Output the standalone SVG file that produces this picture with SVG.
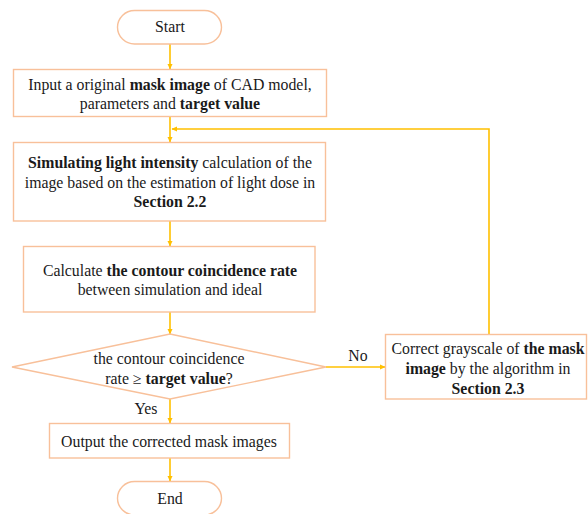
<svg xmlns="http://www.w3.org/2000/svg" width="588" height="514" viewBox="0 0 588 514" font-family="Liberation Serif, Times New Roman, DejaVu Serif, serif">
<defs>
<marker id="ah" markerWidth="6" markerHeight="6" refX="5" refY="3" orient="auto" markerUnits="userSpaceOnUse">
<path d="M0,0.5 L5.5,3 L0,5.5 Z" fill="#FFC000"/>
</marker>
<style>
.box{fill:#fff;stroke:#F8C09A;stroke-width:1.4}
.con{fill:none;stroke:#FFC000;stroke-width:1.6;marker-end:url(#ah)}
text{font-family:'Liberation Serif','Times New Roman','DejaVu Serif',serif;font-size:15.8px;fill:#1a1a1a;text-anchor:middle}
.b{font-weight:bold}
</style>
</defs>
<rect width="588" height="514" fill="#fff"/>
<g id="connectors">
<path class="con" d="M170,44 V69"/>
<path class="con" d="M170,117 V142"/>
<path class="con" d="M489,334 V129 H172"/>
<path class="con" d="M170,221 V246"/>
<path class="con" d="M170,312 V334"/>
<path class="con" d="M326,367 H385"/>
<path class="con" d="M170,399 V423"/>
<path class="con" d="M170,458 V481"/>
<text x="358" y="361">No</text>
<text x="146" y="414">Yes</text>
</g>
<g id="start">
<rect class="box" x="117.5" y="10.5" width="104" height="33.5" rx="17"/>
<text x="170" y="32">Start</text>
</g>
<g id="input">
<rect class="box" x="13.5" y="69.5" width="313" height="47"/>
<text x="170" y="90">Input a original <tspan class="b">mask image</tspan> of CAD model,</text>
<text x="170" y="108.5">parameters and <tspan class="b">target value</tspan></text>
</g>
<g id="simulate">
<rect class="box" x="13.5" y="142.5" width="312" height="78.5"/>
<text x="170" y="168"><tspan class="b">Simulating light intensity</tspan> calculation of the</text>
<text x="170" y="187.5">image based on the estimation of light dose in</text>
<text x="170" y="207"><tspan class="b">Section 2.2</tspan></text>
</g>
<g id="calculate">
<rect class="box" x="23.5" y="246.5" width="291.5" height="65.5"/>
<text x="170" y="276">Calculate <tspan class="b">the contour coincidence rate</tspan></text>
<text x="170" y="294.5">between simulation and ideal</text>
</g>
<g id="decision">
<polygon class="box" points="170,334 326,367 170,399 12,367"/>
<text x="169" y="364">the contour coincidence</text>
<text x="169" y="384">rate ≥ <tspan class="b">target value</tspan>?</text>
</g>
<g id="correct">
<rect class="box" x="385.5" y="334.5" width="201" height="64.5"/>
<text x="488" y="354">Correct grayscale of <tspan class="b">the mask</tspan></text>
<text x="488" y="374"><tspan class="b">image</tspan> by the algorithm in</text>
<text x="488" y="393.5"><tspan class="b">Section 2.3</tspan></text>
</g>
<g id="output">
<rect class="box" x="49.5" y="423.5" width="240" height="34.5"/>
<text x="169" y="447">Output the corrected mask images</text>
</g>
<g id="end">
<rect class="box" x="117.5" y="481.5" width="104" height="33.5" rx="17"/>
<text x="170" y="504">End</text>
</g>
</svg>
